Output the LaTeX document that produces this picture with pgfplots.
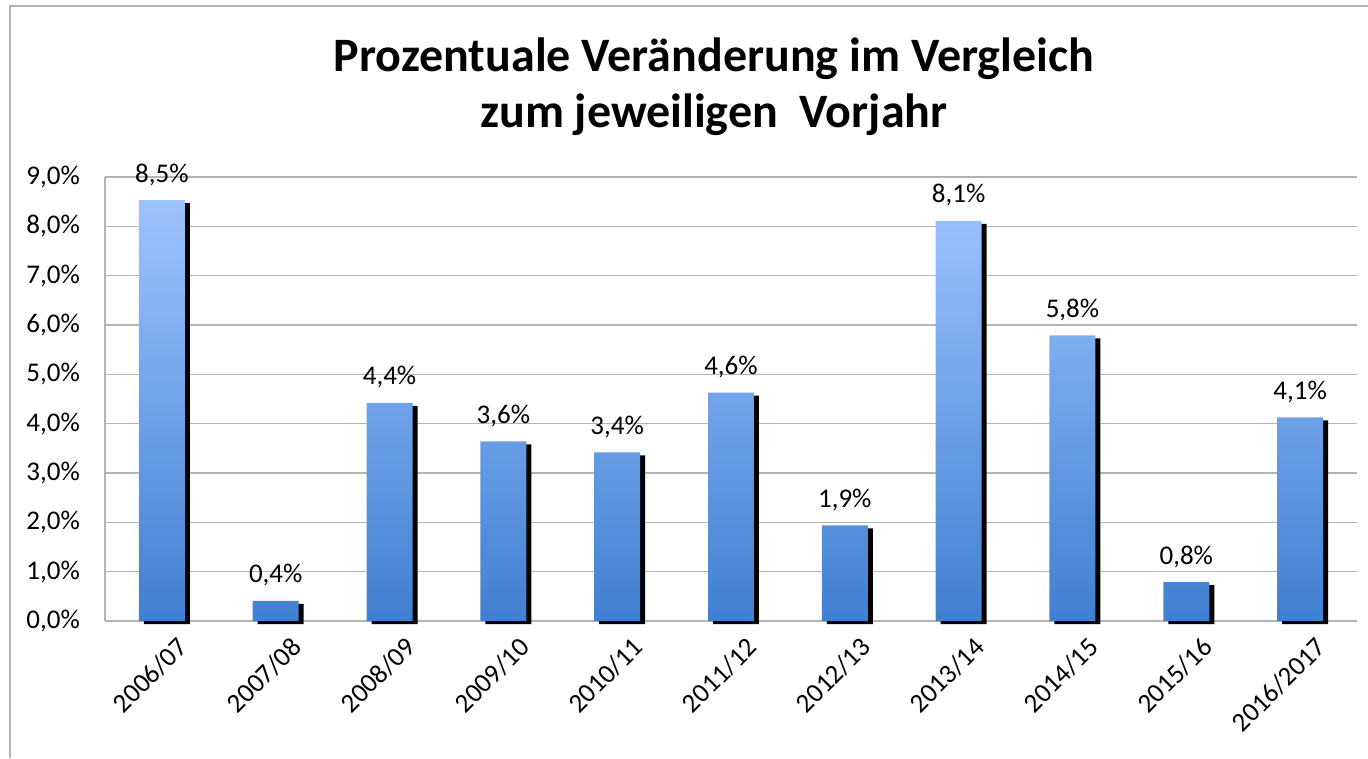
\documentclass[border=0pt]{standalone}
\usepackage{pgfplots}
\pgfplotsset{compat=1.18}
\usepackage{fontspec}
\setmainfont{Carlito}
\definecolor{barlight}{RGB}{157,195,255}
\definecolor{bardark}{RGB}{64,128,208}
\definecolor{gridgray}{RGB}{180,180,180}
\begin{document}
\begin{tikzpicture}
\useasboundingbox (0pt,0pt) rectangle (1368pt,758pt);
\draw[gridgray, line width=1.5pt] (10pt,0pt) -- (10pt,752pt) -- (1368pt,752pt);
\node[font=\fontsize{48}{56}\selectfont\bfseries, anchor=base] at (714pt,686pt) {Prozentuale Veränderung im Vergleich};
\node[font=\fontsize{48}{56}\selectfont\bfseries, anchor=base] at (714pt,630pt) {zum jeweiligen\ \ Vorjahr};
\begin{axis}[
  at={(105pt,137pt)}, anchor=south west,
  scale only axis, width=1252pt, height=444pt,
  xmin=-0.5, xmax=10.5, ymin=0, ymax=9,
  ytick={0,1,...,9},
  xtick={0,1,...,10},
  xticklabels={2006/07,2007/08,2008/09,2009/10,2010/11,2011/12,2012/13,2013/14,2014/15,2015/16,2016/2017},
  axis lines*=left,
  axis line style={gridgray, line width=1.5pt, -},
  ymajorgrids, major grid style={gridgray, line width=1.5pt},
  major tick length=0pt,
  clip=false,
  tick label style={font=\fontsize{27}{31}\selectfont, text=black},
  /pgf/number format/assume math mode=true,
  yticklabel={\pgfmathprintnumber[fixed,fixed zerofill,precision=1,use comma]{\tick}\%},
  yticklabel style={anchor=east, inner sep=0pt, xshift=-25pt},
  xticklabel style={rotate=45, anchor=north east, inner sep=0pt, yshift=-20pt},
  every axis plot/.append style={ybar, bar width=0.404, bar shift=0pt},
]
\addplot[fill=black, draw=none, xshift=5pt, yshift=-3pt] coordinates {
(0,8.53) (1,0.41) (2,4.42) (3,3.64) (4,3.42) (5,4.63) (6,1.94) (7,8.11) (8,5.79) (9,0.79) (10,4.13)};
\addplot[draw=none, shading=axis, top color=barlight, bottom color=bardark,
  nodes near coords={\pgfmathprintnumber[fixed,fixed zerofill,precision=1,use comma,assume math mode=true]{\pgfplotspointmeta}\%},
  every node near coord/.append style={font=\fontsize{27}{31}\selectfont, text=black, anchor=base, inner sep=0pt, yshift=18pt}
] coordinates {
(0,8.53) (1,0.41) (2,4.42) (3,3.64) (4,3.42) (5,4.63) (6,1.94) (7,8.11) (8,5.79) (9,0.79) (10,4.13)};
\end{axis}
\end{tikzpicture}
\end{document}
